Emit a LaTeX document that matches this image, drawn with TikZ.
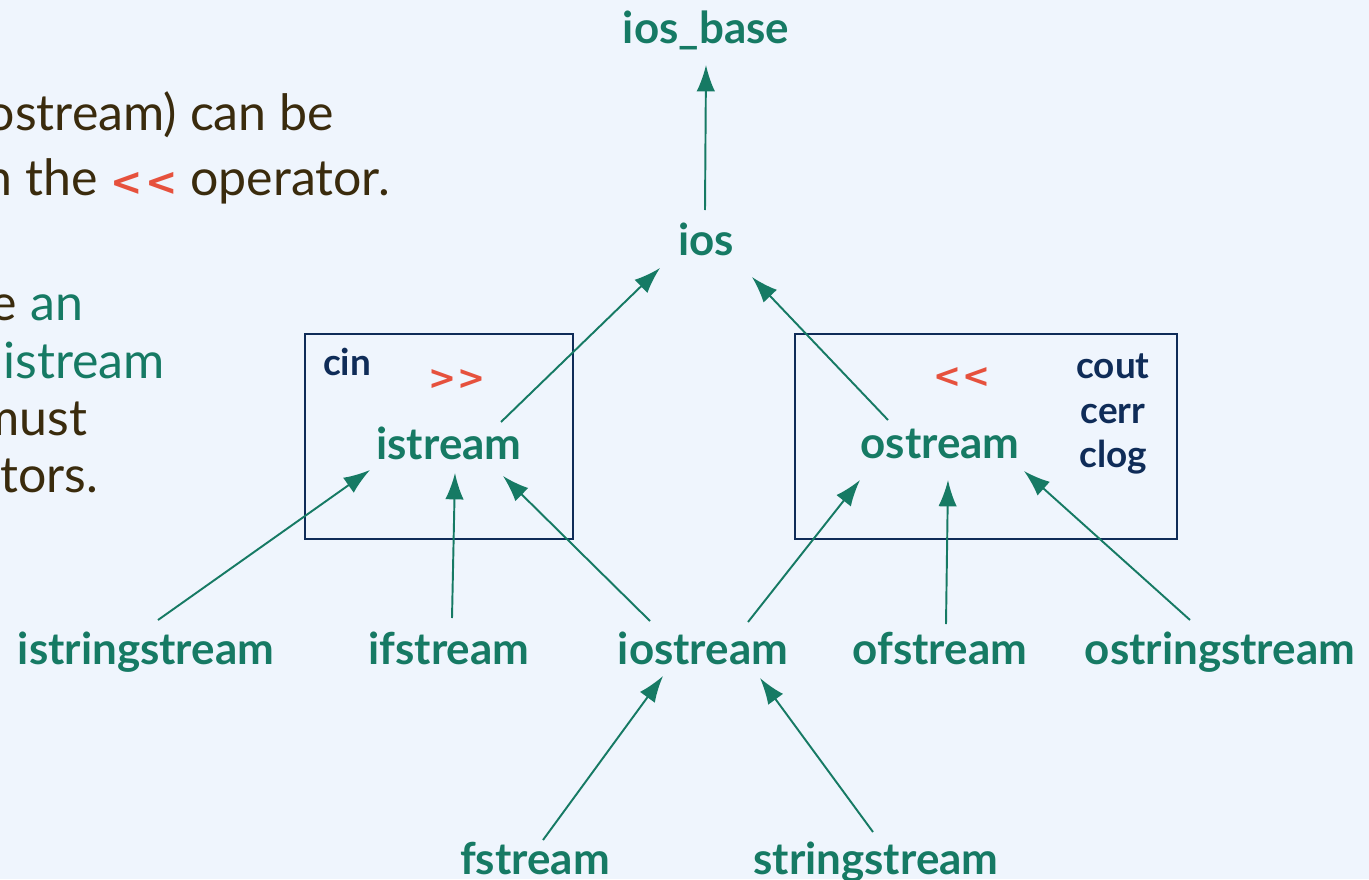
\documentclass[tikz,border=0pt]{standalone}
\usepackage{fontspec}
\setmainfont{Lato}
\newfontfamily\oprfont{DejaVu Sans}
\usetikzlibrary{arrows.meta}
\definecolor{slidebg}{HTML}{EFF5FD}
\definecolor{classgreen}{HTML}{167A64}
\definecolor{boxnavy}{HTML}{0F2C58}
\definecolor{oprred}{HTML}{E6513D}
\definecolor{bodybrown}{HTML}{3A2B0D}
\newcommand{\shlop}{{\oprfont\bfseries{<}\kern0.06em{<}}}
\newcommand{\shrop}{{\oprfont\bfseries{>}\kern0.06em{>}}}
\tikzset{%
  >={Latex[length=15pt,width=10.5pt]}, % big filled heads
  inner sep=0pt,%
  outer sep=0pt,%
  cls/.style={anchor=base,text=classgreen,
    font=\fontsize{25}{30}\selectfont\bfseries},%
  tag/.style={anchor=base,text=boxnavy,
    font=\fontsize{21}{25}\selectfont\bfseries},%
  opr/.style={anchor=base,text=oprred,
    font=\fontsize{19}{23}\selectfont},%
  body/.style={anchor=base east,text=bodybrown,
    font=\fontsize{28.5}{34}\selectfont},%
  inherit/.style={->,draw=classgreen,line width=1.1pt},%
  grp/.style={draw=boxnavy,line width=1.1pt}%
}

\begin{document}
\begin{tikzpicture}[x=0.02cm,y=-0.02cm] % STREAMS

\fill[slidebg] (0,0) rectangle (1369,879);
\useasboundingbox (0,0) rectangle (1369,879);
\clip (0,0) rectangle (1369,879);

% slide text, cut at the left edge
\node[body] (t1) at (334,130) {ostream) can be};
\node[body] (t2) at (390,195) {n the \textcolor{oprred}{\fontsize{22}{27}\selectfont\shlop} operator.};
\node[body] (t3) at (83,320) {e \textcolor{classgreen}{an}};
\node[body,text=classgreen] (t4) at (165,378) {istream};
\node[body] (t5) at (87,435) {must};
\node[body] (t6) at (98,492) {tors.};

% groups
\draw[grp] (305,334) rectangle (573,539);
\draw[grp] (795,334) rectangle (1177,539);
\node[tag] (cin) at (347,375) {cin};
\node[opr] (shr) at (457,389) {\shrop};
\node[opr] (shl) at (962,387) {\shlop};
\node[tag] (cout) at (1113,378) {cout};
\node[tag] (cerr) at (1113,423) {cerr};
\node[tag] (clog) at (1113,467) {clog};

% classes
\node[cls] (iosbase) at (706,43) {ios\_base};
\node[cls] (ios) at (706,255) {ios};
\node[cls] (istream) at (449,459) {istream};
\node[cls] (ostream) at (940,458) {ostream};
\node[cls] (isstream) at (146,664) {istringstream};
\node[cls] (ifstream) at (449,664) {ifstream};
\node[cls] (iostream) at (703,664) {iostream};
\node[cls] (ofstream) at (940,664) {ofstream};
\node[cls] (osstream) at (1220,664) {ostringstream};
\node[cls] (fstream) at (535,874) {fstream};
\node[cls] (sstream) at (876,874) {stringstream};

\draw[inherit] ([shift={(-1,-45)}]ios.base) -- ([shift={(0,22)}]iosbase.base);
\draw[inherit] ([shift={(52,-37)}]istream.base) -- ([shift={(-46,13)}]ios.base);
\draw[inherit] ([shift={(-52,-38)}]ostream.base) -- ([shift={(46,22)}]ios.base);
\draw[inherit] ([shift={(12,-44)}]isstream.base) -- ([shift={(-79,11)}]istream.base);
\draw[inherit] ([shift={(3,-46)}]ifstream.base) -- ([shift={(6,14)}]istream.base);
\draw[inherit] ([shift={(-53,-43)}]iostream.base) -- ([shift={(54,17)}]istream.base);
\draw[inherit] ([shift={(45,-42)}]iostream.base) -- ([shift={(-80,22)}]ostream.base);
\draw[inherit] ([shift={(6,-40)}]ofstream.base) -- ([shift={(8,22)}]ostream.base);
\draw[inherit] ([shift={(-30,-44)}]osstream.base) -- ([shift={(84,13)}]ostream.base);
\draw[inherit] ([shift={(8,-34)}]fstream.base) -- ([shift={(-40,12)}]iostream.base);
\draw[inherit] ([shift={(-3,-42)}]sstream.base) -- ([shift={(57,14)}]iostream.base);

\end{tikzpicture}
\end{document}
